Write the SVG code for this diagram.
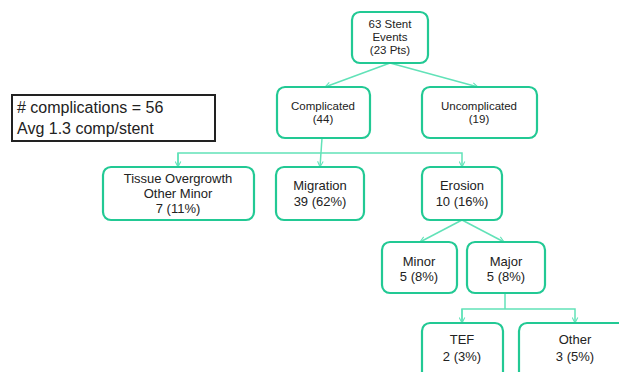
<svg xmlns="http://www.w3.org/2000/svg" width="619" height="372" viewBox="0 0 619 372">
<style>
.box{fill:#fff;stroke:#22c994;stroke-width:2.2}
.t{font-family:"Liberation Sans",Arial,sans-serif;font-size:11.5px;fill:#222;text-anchor:middle}
.t2{font-family:"Liberation Sans",Arial,sans-serif;font-size:13px;fill:#222;text-anchor:middle}
.c{fill:none;stroke:#62e2b8;stroke-width:1.5}
</style>
<defs>
<marker id="a" viewBox="0 0 10 10" refX="9" refY="5" markerWidth="7" markerHeight="7" orient="auto" markerUnits="userSpaceOnUse">
<path d="M1,1 L9,5 L1,9" fill="none" stroke="#62e2b8" stroke-width="1.5"/>
</marker>
</defs>
<rect width="619" height="372" fill="#fff"/>
<g id="connectors">
<line class="c" x1="390" y1="63" x2="325" y2="87" marker-end="url(#a)"/>
<line class="c" x1="390" y1="63" x2="478" y2="87" marker-end="url(#a)"/>
<line class="c" x1="322" y1="138" x2="320" y2="167" marker-end="url(#a)"/>
<polyline class="c" points="178,167 178,153 462,153 462,167" marker-end="url(#a)"/>
<line class="c" x1="178" y1="153" x2="178" y2="167" marker-end="url(#a)"/>
<line class="c" x1="462" y1="220" x2="420" y2="242" marker-end="url(#a)"/>
<line class="c" x1="462" y1="220" x2="504" y2="242" marker-end="url(#a)"/>
<line class="c" x1="505" y1="293" x2="505" y2="309"/>
<polyline class="c" points="462,323 462,309 575,309 575,323" marker-end="url(#a)"/>
<line class="c" x1="462" y1="309" x2="462" y2="323" marker-end="url(#a)"/>
</g>
<g id="summary">
<rect x="12" y="95" width="203" height="46" fill="#fff" stroke="#222" stroke-width="2"/>
<text font-family="'Liberation Sans',Arial,sans-serif" font-size="16" fill="#222"><tspan x="17" y="113"># complications = 56</tspan><tspan x="17" y="134">Avg 1.3 comp/stent</tspan></text>
</g>
<g id="n-events">
<rect class="box" x="352" y="12" width="76" height="51" rx="8"/>
<text class="t"><tspan x="390" y="28">63 Stent</tspan><tspan x="390" y="41">Events</tspan><tspan x="390" y="54">(23 Pts)</tspan></text>
</g>
<g id="n-complicated">
<rect class="box" x="277" y="87" width="93" height="51" rx="8"/>
<text class="t"><tspan x="323" y="110">Complicated</tspan><tspan x="323" y="123">(44)</tspan></text>
</g>
<g id="n-uncomplicated">
<rect class="box" x="422" y="87" width="115" height="51" rx="8"/>
<text class="t"><tspan x="479" y="110">Uncomplicated</tspan><tspan x="479" y="123">(19)</tspan></text>
</g>
<g id="n-tissue">
<rect class="box" x="103" y="167" width="151" height="53" rx="8"/>
<text class="t2"><tspan x="178" y="183">Tissue Overgrowth</tspan><tspan x="178" y="198">Other Minor</tspan><tspan x="178" y="213">7 (11%)</tspan></text>
</g>
<g id="n-migration">
<rect class="box" x="276" y="167" width="88" height="53" rx="8"/>
<text class="t2"><tspan x="320" y="190">Migration</tspan><tspan x="320" y="206">39 (62%)</tspan></text>
</g>
<g id="n-erosion">
<rect class="box" x="422" y="167" width="80" height="53" rx="8"/>
<text class="t2"><tspan x="462" y="190">Erosion</tspan><tspan x="462" y="206">10 (16%)</tspan></text>
</g>
<g id="n-minor">
<rect class="box" x="382" y="242" width="75" height="51" rx="8"/>
<text class="t2"><tspan x="419" y="266">Minor</tspan><tspan x="419" y="281">5 (8%)</tspan></text>
</g>
<g id="n-major">
<rect class="box" x="467" y="242" width="78" height="51" rx="8"/>
<text class="t2"><tspan x="506" y="266">Major</tspan><tspan x="506" y="281">5 (8%)</tspan></text>
</g>
<g id="n-tef">
<rect class="box" x="422" y="323" width="81" height="60" rx="8"/>
<text class="t2"><tspan x="462" y="344">TEF</tspan><tspan x="462" y="361">2 (3%)</tspan></text>
</g>
<g id="n-other">
<rect class="box" x="519" y="323" width="112" height="60" rx="8"/>
<text class="t2"><tspan x="575" y="344">Other</tspan><tspan x="575" y="361">3 (5%)</tspan></text>
</g>
</svg>
